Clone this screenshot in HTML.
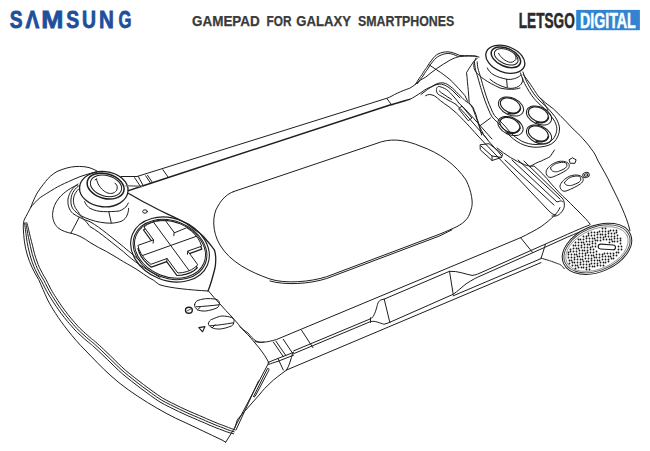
<!DOCTYPE html>
<html><head><meta charset="utf-8"><style>
html,body{margin:0;padding:0;background:#fff;width:650px;height:451px;overflow:hidden;font-family:"Liberation Sans",sans-serif}
svg{display:block}
</style></head><body>
<svg width="650" height="451" viewBox="0 0 650 451">
<defs><pattern id="dots" width="2.8" height="2.8" patternUnits="userSpaceOnUse" patternTransform="rotate(-8)"><circle cx="1.4" cy="1.4" r="0.78" fill="#1a1a1a"/></pattern></defs>
<rect width="650" height="451" fill="#fff"/>
<!-- header -->
<g font-family="Liberation Sans" font-weight="bold">
<g font-size="24" fill="#1d4f9b" stroke="#1d4f9b" stroke-width="0.8"><text transform="translate(16.05,0) scale(0.8,1)" x="-7.91" y="27.6">S</text><text transform="translate(32.4,0) scale(0.858,1)" x="-8.02" y="27.6">Λ</text><text transform="translate(52.5,0) scale(1.11,1)" x="-10.03" y="27.6">M</text><text transform="translate(72.55,0) scale(0.81,1)" x="-7.91" y="27.6">S</text><text transform="translate(89,0) scale(0.807,1)" x="-8.64" y="27.6">U</text><text transform="translate(106.35,0) scale(0.86,1)" x="-8.69" y="27.6">N</text><text transform="translate(124.8,0) scale(0.694,1)" x="-9.1" y="27.6">G</text></g>
<text x="192" y="25.9" font-size="14" fill="#3a3a3a" stroke="#3a3a3a" stroke-width="0.25" lengthAdjust="spacingAndGlyphs" textLength="67.8">GAMEPAD</text><text x="266.5" y="25.9" font-size="14" fill="#3a3a3a" stroke="#3a3a3a" stroke-width="0.25" lengthAdjust="spacingAndGlyphs" textLength="25.0">FOR</text><text x="296.3" y="25.9" font-size="14" fill="#3a3a3a" stroke="#3a3a3a" stroke-width="0.25" lengthAdjust="spacingAndGlyphs" textLength="54.7">GALAXY</text><text x="358" y="25.9" font-size="14" fill="#3a3a3a" stroke="#3a3a3a" stroke-width="0.25" lengthAdjust="spacingAndGlyphs" textLength="96.2">SMARTPHONES</text>
<text x="518.8" y="27.6" font-size="21.2" fill="#2a2a2a" stroke="#2a2a2a" stroke-width="0.5" textLength="56" lengthAdjust="spacingAndGlyphs">LETSGO</text>
<rect x="576.2" y="9.9" width="63.7" height="20.3" fill="#3384d0"/>
<text x="580" y="27.6" font-size="21.2" fill="#fff" stroke="#fff" stroke-width="0.5" textLength="55.8" lengthAdjust="spacingAndGlyphs">DIGITAL</text>
</g>

<g fill="none" stroke="#1e1e1e" stroke-width="1" stroke-linecap="round" stroke-linejoin="round">
<!-- ===== LEFT GRIP ===== -->
<path d="M97,171 C94,169.5 92,168.5 89,167.6 C85,166.6 81,166.3 76,166.5 C70,166.8 64,168.5 57,171.5 C52,174.5 48,178 45.5,181.6 C42,186 39,190 36.6,194 C34,199 32,204 30.6,207.6 C28.5,212 26,216 24.6,219 C23.5,221 23.2,224 23.3,228 C23.6,236 24.5,246 27.3,255 C30,264 34,272 38.8,279.8 C41.5,286 44.5,293 47.7,300 C52,308 58,318 67.5,330 C73,337 79,344 85,350 C93,358 101,367 110,375 C122,386 134,394 147.5,402.5 C160,410 172,417 185,422.5 C197,428 209,434 222,440 L225.7,442.2"/>
<path d="M97,172 C93,172.5 88,174 81,176.3 C77,177.8 73,179.5 68.6,181.6 C63,184 58,186.5 54.4,188.7 C49,192 44,195 40.2,197.6 C36,201 33,204.5 30.6,207.6"/>
<path d="M24.6,223.0 C24.7,224.1 25.1,227.1 25.4,229.5 C25.7,232.0 26.1,235.0 26.5,237.9 C26.9,240.7 27.4,243.9 28.0,246.8 C28.6,249.6 29.3,252.3 30.0,255.0 C30.7,257.7 31.6,260.3 32.4,262.7 C33.3,265.2 34.2,267.4 35.2,269.6 C36.2,271.8 37.3,273.9 38.4,276.0 C39.6,278.0 41.0,280.1 42.0,282.0 C43.0,283.9 43.7,285.4 44.5,287.1 C45.4,288.7 46.2,290.2 47.0,291.8 C47.8,293.2 48.6,294.7 49.5,296.1 C50.3,297.4 50.9,298.3 52.0,300.0 C53.1,301.7 54.6,304.1 56.2,306.4 C57.7,308.6 59.4,311.0 61.2,313.5 C63.1,316.0 65.2,318.6 67.5,321.4 C69.8,324.1 72.9,327.7 75.0,330.0 C77.1,332.3 78.4,333.4 80.1,334.9 C81.7,336.4 83.2,337.8 84.7,339.1 C86.2,340.3 87.5,341.5 88.9,342.6 C90.2,343.7 90.6,343.8 92.5,345.5 C94.4,347.2 97.6,350.2 100.1,352.5 C102.6,354.9 105.0,357.2 107.5,359.6 C110.0,362.0 112.4,364.4 114.9,366.8 C117.4,369.2 119.7,371.6 122.5,373.9 C125.3,376.3 128.4,378.7 131.4,381.1 C134.4,383.5 137.5,385.9 140.7,388.3 C143.8,390.7 147.1,393.0 150.3,395.3 C153.5,397.6 156.9,400.1 160.0,402.0 C163.1,403.9 166.1,405.3 169.2,406.9 C172.3,408.4 175.4,410.0 178.6,411.5 C181.7,413.0 184.9,414.5 188.1,415.9 C191.2,417.2 194.8,418.7 197.5,419.9 C200.2,421.1 202.2,421.9 204.5,422.9 C206.8,423.9 209.0,424.9 211.1,425.8 C213.1,426.6 215.2,427.4 217.0,428.2 C218.8,428.9 220.3,429.3 222.0,430.0 C224.5,431 228,432.5 233.6,433.8"/>
<path d="M25.8,222.9 C26.0,223.9 26.5,226.9 27.0,229.3 C27.4,231.8 27.9,234.8 28.5,237.6 C29.1,240.4 29.7,243.5 30.4,246.3 C31.0,249.1 31.6,251.8 32.3,254.4 C33.0,257.0 33.8,259.5 34.7,261.9 C35.6,264.3 36.5,266.5 37.4,268.6 C38.4,270.8 39.4,272.8 40.5,274.8 C41.7,276.8 43.1,279.0 44.1,280.8 C45.1,282.7 45.8,284.3 46.7,286.0 C47.5,287.6 48.3,289.1 49.1,290.6 C49.9,292.1 50.7,293.5 51.5,294.8 C52.3,296.2 52.9,297.0 54.0,298.7 C55.1,300.4 56.6,302.8 58.1,305.0 C59.7,307.2 61.3,309.6 63.2,312.1 C65.0,314.5 67.0,317.1 69.3,319.8 C71.6,322.6 74.7,326.1 76.8,328.4 C78.8,330.6 80.1,331.6 81.7,333.1 C83.3,334.6 84.8,336.0 86.3,337.3 C87.7,338.5 89.1,339.7 90.4,340.7 C91.7,341.8 92.2,342.0 94.1,343.7 C96.0,345.4 99.3,348.4 101.8,350.8 C104.3,353.1 106.7,355.5 109.2,357.9 C111.6,360.2 114.0,362.7 116.5,365.1 C119.0,367.5 121.3,369.8 124.1,372.1 C126.8,374.5 129.9,376.8 132.9,379.2 C135.9,381.6 139.0,384.0 142.1,386.4 C145.3,388.7 148.5,391.1 151.7,393.4 C154.8,395.6 158.2,398.1 161.3,400.0 C164.3,401.8 167.2,403.2 170.3,404.7 C173.3,406.3 176.5,407.8 179.6,409.3 C182.7,410.8 185.9,412.3 189.0,413.7 C192.2,415.0 195.7,416.5 198.4,417.7 C201.2,418.8 203.2,419.7 205.4,420.7 C207.7,421.7 209.9,422.7 212.0,423.5 C214.1,424.4 216.0,425.2 217.8,425.9 C219.7,426.6 221.4,427.1 223.0,427.8 C225.5,428.8 229,430.5 234.2,431.8"/>
<path d="M26.9,222.7 C27.2,223.8 27.9,226.7 28.5,229.1 C29.1,231.6 29.7,234.5 30.4,237.3 C31.1,240.1 31.9,243.1 32.6,245.8 C33.3,248.6 33.8,251.2 34.5,253.7 C35.2,256.3 36.0,258.8 36.9,261.1 C37.7,263.5 38.6,265.6 39.5,267.7 C40.5,269.8 41.5,271.7 42.6,273.7 C43.7,275.7 45.1,277.9 46.1,279.7 C47.1,281.6 47.9,283.3 48.7,284.9 C49.6,286.5 50.3,288.0 51.1,289.5 C51.9,291.0 52.7,292.3 53.5,293.6 C54.3,294.9 54.8,295.8 55.9,297.4 C57.0,299.1 58.5,301.5 60.0,303.7 C61.5,305.9 63.2,308.2 65.0,310.7 C66.8,313.1 68.8,315.7 71.1,318.4 C73.3,321.1 76.4,324.6 78.4,326.8 C80.5,329.0 81.7,330.0 83.3,331.5 C84.8,332.9 86.4,334.3 87.8,335.5 C89.2,336.8 90.5,337.9 91.8,339.0 C93.1,340.0 93.7,340.3 95.6,342.0 C97.5,343.7 100.8,346.7 103.4,349.1 C105.9,351.5 108.3,353.8 110.8,356.2 C113.2,358.6 115.6,361.1 118.1,363.4 C120.6,365.8 122.9,368.0 125.6,370.4 C128.3,372.7 131.3,375.0 134.3,377.4 C137.3,379.8 140.4,382.2 143.5,384.5 C146.6,386.9 149.8,389.3 153.0,391.5 C156.1,393.7 159.4,396.1 162.4,398.0 C165.5,399.9 168.3,401.1 171.3,402.7 C174.3,404.2 177.5,405.8 180.6,407.3 C183.7,408.7 186.8,410.2 190.0,411.6 C193.1,412.9 196.6,414.4 199.4,415.6 C202.1,416.7 204.1,417.6 206.4,418.6 C208.6,419.6 210.8,420.6 212.9,421.4 C214.9,422.3 216.8,423.1 218.7,423.8 C220.5,424.5 222.5,425.0 223.9,425.7 C226.5,426.6 230,428.4 235,429.8"/>
<path d="M225.7,442.2 L233.6,429.6 L268.6,363"/>
<path d="M236,430 L258.5,381"/>
<path d="M286.6,370 C280,375 274,379 270,383.3 C266,387 263,390 260,394 L237.5,419.4 L234.8,428"/>
<path d="M253.6,396.5 L267.6,368.3 C268.5,368 269.2,369 269,370 L255.3,396 C254.8,397 253.8,397.2 253.6,396.5 Z"/>
<!-- left grip upper-right edge from panel tip -->
<path d="M208.5,291 C212,295 216,300 220,304 C224,308.5 228,313 232,317 C235,320.5 238,323.5 240,326.5 C242,329 245,331 248,333 C250.5,336 253,339 255.9,340.9 C259,342.5 262,342.5 264,342"/>
<path d="M240,326.5 C243,330 247,334 250,337 C253,341 257,345 260,349 C263,353 266,357 268.9,362.8"/>

<!-- ===== LEFT PANEL (joystick + dpad) ===== -->
<path d="M77.5,185 C72,187 64,192 59,198 C55,203 53,208 52.6,213.6 C52.4,219 54,224 58,227.8 C62,231 67,232.5 72.2,233.5 C78,235 84,238 90,242.5 C96,246 101,249 106.6,251.6 C112,255 118,258 123.3,261.6 C129,265 135,268 140,271.6 C145,275 149,278 153.2,280 C156,282 158,284 160,284.9 C170,288 190,290 208,291"/>
<path d="M71,233 L79.3,217.2"/>
<!-- socket rings -->
<path d="M78,184 C73,187 69,193 68,199 C67.5,205 69,210 73,213.6 C78,217 84,219.5 90,221.7 C96,225 101,229 106.6,233.3 C112,238 118,242 123.3,246.6 C127,250 130,252 133.3,255 C136,257.5 138,259 140,260.8"/>
<path d="M80,185 C75,188 71.5,193 71,199 C70.5,205 72,209 76,212 C81,216 86,221 90,226.6 C96,230 101,234 106.6,238.3 C112,243 118,247 123.3,251.6 C128,256 134,261 140,265 C145,268 149,271 153.2,273.2 C156,275 158,276.5 160,277.4"/>
<path d="M82,186 C77,190 74,194 73.5,199 C73,204 75,208 78,211.5 C79,213 80,214.5 80.6,215.5 C83.5,217 86.5,218.5 90,219.6 C93.5,220.8 97,221.7 100.6,222.3 C104,222.9 108,223.3 111.3,223.2 C115,223 119,222.2 121.9,221 C124.5,219.5 126.3,217.5 127.2,215 C128.2,212.5 128.6,210.5 128.6,208.3"/>
<!-- panel upper edge, right of joystick to dpad right -->
<path d="M128.5,193.5 C135,197 143,202 150.5,205.5 C157,209 163,212 168.2,214.4 C174,217 180,220 186,223.2 C190,226 194,229 198.4,232.1 C202,235 205,238 207.3,241 C210,244 212,247 214.4,250 C216,255 216,262 215,268 C213,276 211,284 208,291" stroke-width="1.3"/>
<!-- small dot -->
<ellipse cx="145" cy="211.5" rx="2.3" ry="1.7"/>

<!-- left joystick -->
<path d="M84.6,201.7 C86,205 88,207 90,208.3 C94,210.5 99,211.5 103.3,211.6 C109,211.8 115,211.5 119.2,211 C122,210 124,208.5 125.9,207 C127,205.5 127.8,204 128.3,203"/>

<path d="M108.8,211.7 L111.3,223"/>
<ellipse cx="103.8" cy="189.2" rx="24.3" ry="17.6" transform="rotate(5 103.8 189.2)" fill="#fff" stroke-width="1.3"/>
<ellipse cx="105.6" cy="186.1" rx="18.9" ry="12.3" transform="rotate(16 105.6 186.1)" stroke-width="1.5"/>
<ellipse cx="106" cy="185.8" rx="16" ry="10.3" transform="rotate(16 106 185.8)"/>
<path d="M95,180 L96.5,178.6 C97,183 100,189 106.6,192.6 C110,194 114,194 116.7,190.3 C118,187 117,184 115,183.3"/>

<!-- D-pad -->
<ellipse cx="170" cy="249.5" rx="40.5" ry="31" transform="rotate(22 170 249.5)" stroke-width="1.1"/>
<ellipse cx="170" cy="249.5" rx="38" ry="28.6" transform="rotate(22 170 249.5)"/>
<ellipse cx="170" cy="249.3" rx="36.6" ry="27.4" transform="rotate(22 170 249.3)"/>
<path d="M187.6,230.7 L191.7,233.9 L195.2,237.4 L198.1,241.1 L200.3,245.1 L201.8,249.2 L187.4,254.3 L197.3,267.8 L194.2,270.5 L190.5,272.6 L186.3,274.2 L181.8,275.2 L176.9,275.5 L166.7,261.7 L151.4,267.2 L147.5,264.0 L144.1,260.4 L141.3,256.6 L139.3,252.6 L138.0,248.5 L153.1,243.1 L143.5,230.0 L146.8,227.5 L150.6,225.5 L154.9,224.1 L159.6,223.3 L164.5,223.1 L173.8,235.7 Z" stroke-width="1.25"/>
<path d="M187.1,227.9 L191.2,230.9 L194.8,234.4 L197.8,238.1 L200.1,242.1 L201.6,246.2 L187.8,251.1 L197.8,264.8 L194.8,267.5 L191.3,269.8 L187.2,271.5 L182.6,272.6 L177.8,273.0 L167.1,258.5 L150.9,264.3 L147.0,261.0 L143.7,257.4 L141.1,253.6 L139.1,249.5 L137.9,245.4 L153.5,239.9 L144.0,227.0 L147.4,224.5 L151.4,222.7 L155.7,221.4 L160.5,220.7 L165.5,220.7 L174.2,232.5 Z" fill="#fff"/>
<path d="M187.8,251.1 L187.4,254.3 M167.1,258.5 L166.7,261.7 M153.5,239.9 L153.1,243.1 M174.2,232.5 L173.8,235.7 "/>
<path d="M196.4,236.3 L142.3,255.6 M189.2,270.7 L153.4,222.0"/>

<!-- buttons lower-left -->
<path d="M194.6,304.6 C195,302.5 196.5,300.8 198,300.4 C201,299.2 205,298.6 208,298.6 C211,298.6 215,298.8 217,299.6 C219,300.6 219.6,302.2 219.4,303.4 C219.2,305.5 218.4,307.2 217,307.9 C213,309.6 209,310.6 205.6,311 C202,311.2 199,310.6 197.6,309.8 C195.6,308.6 194.4,306.6 194.6,304.6 Z"/>
<path d="M196.4,306.8 C203,306.4 211,305.8 218.8,304.8"/>
<path d="M197.6,309.8 C199,308.6 200,307.4 200.6,306.6"/>
<path d="M208.4,323.6 C208.8,321.5 210.3,319.8 211.8,319.4 C214.8,318.2 218.8,316.2 221.8,316 C224.8,315.8 229.8,316.8 231.8,317.6 C233.8,318.6 234.2,320.2 234,321.4 C233.8,323.5 233,325.2 231.6,325.9 C227.6,327.6 223.6,328.6 220.2,329 C216.6,329.2 213.6,328.6 212.2,327.8 C210.2,326.6 208.2,325.6 208.4,323.6 Z"/>
<path d="M210.2,325.8 C217,325.4 225,324.2 233.4,322.8"/>
<path d="M212.2,327.8 C213.6,326.6 214.6,325.4 215.2,324.6"/>
<ellipse cx="188.9" cy="310.3" rx="3.4" ry="3" stroke-width="1.4"/>
<path d="M187,311 L190.5,309.2" stroke-width="0.8"/>
<path d="M198.8,327.6 L205,326.6 L202.6,331.8 Z" stroke-width="1.1"/>

<!-- ===== TOP EDGE ===== -->
<path d="M121,176.5 L137,176.5 L147,173.4 L386.7,98.3 C390,97.5 394,94.5 397.3,93.2 C402,91 406,89.5 409.6,88.3 C412,87 414,85.5 415.8,84"/>
<path d="M128.5,190.6 L143.2,185.7 L390,105 C393,104.3 395,103.6 397.3,103 C402,101.5 406,100.5 409.6,99.4" stroke-width="1.5"/>
<path d="M126,185.7 L142,186.3" stroke="#777" stroke-width="1.4"/>
<path d="M386.7,98.3 L391.7,105 M134.6,177.7 L140.8,186.9 M138.3,176.5 L143.2,185.7 M145.7,175.8 L150.6,183.2 M147.5,175.2 L152.5,182.6 M162.9,169.7 L168.5,177.7"/>

<!-- ===== OVAL BACK PLATE ===== -->
<path d="M233.3,191.7 L381.7,141.7 C395,138 408,141 420,146 C440,153 456,165 466,180 C472,192 473,203 471.6,207.6 C470.5,212 469,216 467.4,218.2 C464.5,222 461,224.5 456.9,226.6 C452,229 446,231.5 440,234 L326.7,276.7 C310,282 285,284 270,279 C250,272 230,262 220,245 C212,232 212,215 218,206 C222,199 227,194 233.3,191.7 Z"/>
<path d="M452,229.8 C448,231.8 444,233.8 440,235.8 L326.7,278.5 C310,284 285,285.5 270,281"/>

<!-- ===== BODY BOTTOM BAND ===== -->
<path d="M255,341.6 C260,343 266,342.5 276.3,339.6 L521.0,237.5 C528,234 536,230 541.1,226.6 C546,223 551,219 553.8,216 C557,213 559,210 560,207.6"/>
<path d="M293.6,350.9 L370.5,318.8 C374,317.29034 376,310.4 377.5,304.4 C379,299.7 381,300.0 384.2,299.1 L449.5,271.3 C458,270.8 466,274.4 472,275.4 C475,275.2 477,274.3 479.0,273.5 L567.7,234.2 C576,230.5 583,227.5 590,224.8"/>
<path d="M293.6,353.7 L370.5,321.6 C375,320.4 380,323.3 384,324.2 C386,323.8 388,323.0 389.8,322.3 L453.2,294.3 C458,290.8 462,287.1 466,283.9 C472,279.9 477,277.3 481.0,275.7 L546,246.8 L567.7,237 C576,233.5 583,230.5 590,228"/>
<path d="M384.2,299.1 L389.8,322.3 M449.5,271.3 L453.2,294.3 M370.5,317.8 L370.5,322.3"/>
<path d="M389.8,322.3 L389.8,322.3 M453.2,295.8 L541.0,258.6"/>
<path d="M286.6,370 L541.0,262.6"/>
<path d="M520.6,237.7 L532.6,252.5 M545.4,244.5 L541.1,258.2"/>
<path d="M541.1,258.2 C546,259.5 551.7,261.4 551.7,261.4 C556,263 560.1,264.5 560.1,264.5 C562,266 563,267 564.3,268.7"/>
<path d="M273.3,342 L283.3,356.6 M276,341.3 L286,355.8 M283.3,339.3 L292.6,353.3 M301.6,330.3 L312.9,347.6"/>
<path d="M268,362.5 C270,361.5 272,361 274,360 L293.6,352.4 M268.6,364.5 C271,363.5 274,362.5 278,361.3 L293.6,355.2 M292.6,353.3 C292,356 291,359 290,362 C289,365 288,368 286.6,370 M278,358.6 L283.3,370"/>

<!-- ===== RIGHT GRIP ===== -->
<!-- shoulder -->
<path d="M415.8,84 C418,80 420,77 421.9,74.8 C424,71 425.5,69 426.8,67.4 C428.5,64.5 430,62 431.8,60 C434,57 436,55 438,54 C441,52.5 445,51.7 448,51.8 C452,52 456,54 460,55.5 C466,56 472,55 479,57"/>
<path d="M417.5,83.6 C419.5,80.5 421.2,78 423,76 C425,72.5 426.5,70.5 427.8,68.8 C429.5,66 431,63.5 432.8,61.5 C435,58.8 437,57 439,56 C442,54.5 445.5,53.4 448,53.4 C451.5,53.5 455,55 458,56.5"/>
<path d="M415.8,84 C419,81 422,79 425.6,77.2 C429,74.5 433,71 436.7,68.6 C441,65.5 446,62.5 450.2,60 C454,58 457,57 460,56.5 C466,56 471,56 476,56"/>
<path d="M429.3,65 C433,67.5 437,70 440.4,72.3 C445,75.5 449,78.5 452.7,82.2 C457,86.5 461,91 465,95.7 L467.6,101.3"/>
<!-- tray top-right corner and channel right wall -->
<path d="M409.6,99.4 C414,97.5 418,94.5 421.9,92 C425,89.5 428,88 431.8,86.5 C434,85 436,84 437.9,83.4 C439.5,82.9 441,82.7 442.8,82.8 C444.5,83 446,83.6 447.8,84.6 C449.5,85.8 451,87 452.7,88.3 C455,90.5 457,92.5 458.8,94.5 C461,96.5 463,98.5 465,100.6 C467,102 470,104 471.6,105.3 C473,107 474,109 474.3,110.6 C475.5,113 476.5,116 477,118.6 C478,121 479,124 479.6,126.6 C481,129.5 482.5,132 483.6,134.6 C485,136.5 486.5,138.5 487.6,140 C492,145 497,150 501.4,155.6"/>
<path d="M421,94.5 C425,91.4 430,87.2 434.2,85.5 C437,84.4 439,84 441.6,84.2 C446,85 450,88 454,92 L460,98"/>
<!-- channel -->
<path d="M425.6,95.7 C427,95 428,94.5 429.3,94.5 C431,94.6 433,95 434.2,95.7 C436.5,97 438.5,99 440.4,100.6 C443,102.8 446,104.8 449,106.8 C451.5,108.8 454,111 456.4,113 C462,118.5 470,127 478,136 L548,210 C551,213 553,215 556,215"/>
<path d="M456,104.5 C453,102.5 451,101.5 449,100.6 C446.5,99.3 444.5,98 442.8,96.9 C440,95.5 438,94.5 437.3,93.2 C436.3,91.5 436.2,89.8 436.7,88.3 C437.2,86.9 438.2,86.3 439.2,86.5 C441.5,87 444,88 446.5,89.5 C449,91.5 451.5,94 454,97 C456,99 457.5,101 458.8,103"/>
<path d="M439.2,90.8 C440.5,92.2 442,93.5 444,94.5 C446.5,96.2 449,98 451.5,99.4"/>
<path d="M456,104.5 C462,110 468,117 474,124 L488,140 M458.8,103 C464,108 470,114 476,121 L492,139"/>
<path d="M505,160 L554,205 M512,160 L557,202 C560,201 562,200 563,202 M518,160 L560,199"/>
<path d="M524,161 L562,198 C565,201 565,207 563,210 C560,215 556,217 552,216"/>
<path d="M459,108.5 L462,106 L471.9,118 L468.5,120.5 Z"/>
<!-- USB connector -->
<path d="M480.5,144.7 L489,143.7 L502.6,154.2 L501.6,157.4 L492.1,160.5 L480.5,150 Z M481,146 L492,156 L501.6,157.4 M492,156 L492.1,160.5"/>
<!-- right panel (4 buttons) double boundary -->
<path d="M474.5,62.1 C474.6,63.3 474.8,66.5 475.4,69.2 C476.0,71.9 477.0,74.5 478.0,78.0 C479.0,81.5 480.4,86.7 481.6,90.5 C482.8,94.3 483.9,97.8 485.1,101.1 C486.3,104.3 487.5,107.3 488.7,110.0 C489.9,112.7 490.7,114.9 492.2,117.0 C493.7,119.1 495.8,120.6 497.6,122.4 C499.4,124.2 500.9,125.7 503.0,128.0 C505.1,130.3 507.7,133.8 510.0,136.0 C512.3,138.2 514.7,140.0 517.0,141.5 C519.3,143.0 521.5,144.1 524.0,145.0 C526.5,145.9 529.3,146.7 532.0,147.0 C534.7,147.3 537.3,147.2 540.0,147.0 C542.7,146.8 545.7,146.3 548.0,145.5 C550.3,144.7 552.3,143.6 554.0,142.0 C555.7,140.4 557.1,138.3 558.0,136.0 C558.9,133.7 559.7,130.7 559.5,128.0 C559.3,125.3 558.2,122.5 557.0,120.0 C555.8,117.5 553.8,115.2 552.0,113.0 C550.2,110.8 548.0,108.5 546.0,106.5 C544.0,104.5 542.0,103.1 540.0,101.0 C538.0,98.9 535.8,96.5 534.0,94.0 C532.2,91.5 530.4,88.5 529.0,86.0 C527.6,83.5 526.5,81.3 525.5,79.0 C524.5,76.7 523.4,73.2 523.0,72.0"/>
<path d="M477.2,61.8 C477.3,62.9 477.4,66.0 478.0,68.6 C478.6,71.2 479.6,73.7 480.6,77.2 C481.6,80.7 483.0,85.9 484.2,89.7 C485.4,93.5 486.4,97.0 487.6,100.2 C488.8,103.4 490.1,106.4 491.2,108.9 C492.3,111.4 493.0,113.5 494.4,115.4 C495.8,117.3 497.7,118.7 499.5,120.5 C501.3,122.3 502.9,123.9 505.0,126.2 C507.1,128.5 509.6,131.9 511.9,134.1 C514.1,136.3 516.3,137.8 518.5,139.2 C520.7,140.6 522.6,141.7 524.9,142.5 C527.2,143.3 529.8,144.0 532.3,144.3 C534.8,144.6 537.2,144.5 539.7,144.3 C542.2,144.1 545.0,143.7 547.1,143.0 C549.2,142.3 550.7,141.3 552.1,140.0 C553.5,138.7 554.7,137.0 555.5,135.0 C556.3,133.0 556.9,130.5 556.8,128.2 C556.6,125.9 555.8,123.5 554.6,121.2 C553.5,119.0 551.6,116.8 549.9,114.7 C548.1,112.6 546.1,110.4 544.1,108.4 C542.1,106.4 540.2,105.0 538.1,102.9 C536.0,100.8 533.7,98.2 531.8,95.6 C529.9,93.0 528.2,89.9 526.7,87.3 C525.2,84.7 524.0,82.5 523.0,80.1 C522.0,77.7 520.9,74.1 520.5,72.9"/>
<path d="M479.8,125.9 L490.5,118"/>
<path d="M477.2,58.5 C475,60 473.5,61.5 472.7,63 C470,67 468,70 466.5,72.7 C467,76 467.2,79 467.4,81.6 C467.8,85 468,88 468.3,90.5 C468.6,95 469,99 469.2,102.9 C470.5,104.5 471.5,106.5 472.7,108.2 C474.5,113 476.5,118 478,122.4 C479.5,127 480.5,131 481.6,135"/>
<!-- grip outer contour -->
<path d="M523.3,74.6 C526,78 528,81 530.6,84.6 C533,88 536,93 538.6,96.6 C543,101 548,105 553.3,108.8 C558,113 562,117.5 566.6,122.1 C571,127 575,131 579.9,135.4 C584,140 588,144 591,148.7 C594,152 596,156 597.6,160 C602,168 607,176 611,185 C615,193 619,201 622,208 C625,215 628,222 630,230.7"/>
<path d="M538.6,96.6 C541,99 543,101 544,103.3 C546,106 547,108 548,110"/>
<path d="M497,148 C506,155 515,161 524.7,164.7 C528,166 531,166.5 534,166 C540,171 546,177 550.5,183 C556,189 561,195 567,200 C572,205 576,209 580,213 C584,217 587,220 590,224"/>
<path d="M530,166.6 C534,164 538,162 541.1,161.1 C545,159 548,158 550,156.7 C552,154 553,152 554.4,150"/>
<!-- right joystick -->
<path d="M476,58 C473,63 473,68 476,72 C480,77 487,82 500,88 C508,90 516,89.5 520,88"/>
<path d="M487.3,68 C490,74 496,77 507,79.3 C512,80 518,78 520.6,75.3"/>
<path d="M490,79.3 C494,83 500,86 507.3,88 C512,89 518,88 521.3,84 C523,81 523,79 522.6,78"/>
<path d="M506.6,79.3 L507.3,87.3"/>
<ellipse cx="505.3" cy="59.3" rx="20.3" ry="12.9" transform="rotate(21 505.3 59.3)" fill="#fff" stroke-width="1.3"/>
<ellipse cx="505.9" cy="57.3" rx="15.6" ry="9" transform="rotate(24 505.9 57.3)" stroke-width="1.5"/>
<ellipse cx="506.2" cy="56.8" rx="12.6" ry="7" transform="rotate(24 506.2 56.8)"/>
<path d="M498.6,53.3 C500,56 503,60 508.6,62 C511,63 514,62 516,59.3 C516,57 515.5,56 515.3,55.3"/>
<!-- 4 buttons -->
<g>
<ellipse cx="511" cy="106.5" rx="13.3" ry="8.6" transform="rotate(25 511 106.5)" stroke-width="1"/>
<ellipse cx="510.4" cy="105.5" rx="10.6" ry="6.9" transform="rotate(25 510.4 105.5)" stroke-width="1.2"/>
<path d="M520.5,108.5 C519,113.5 513,115.0 508,113.0" stroke-width="1.4" transform="rotate(0)"/>
<ellipse cx="539" cy="115.5" rx="13.3" ry="8.6" transform="rotate(25 539 115.5)" stroke-width="1"/>
<ellipse cx="538.4" cy="114.5" rx="10.6" ry="6.9" transform="rotate(25 538.4 114.5)" stroke-width="1.2"/>
<path d="M548.5,117.5 C547,122.5 541,124.0 536,122.0" stroke-width="1.4" transform="rotate(0)"/>
<ellipse cx="510.5" cy="126" rx="13.3" ry="8.6" transform="rotate(25 510.5 126)" stroke-width="1"/>
<ellipse cx="509.9" cy="125.0" rx="10.6" ry="6.9" transform="rotate(25 509.9 125.0)" stroke-width="1.2"/>
<path d="M520.0,128 C518.5,133 512.5,134.5 507.5,132.5" stroke-width="1.4" transform="rotate(0)"/>
<ellipse cx="539" cy="134.5" rx="13.3" ry="8.6" transform="rotate(25 539 134.5)" stroke-width="1"/>
<ellipse cx="538.4" cy="133.5" rx="10.6" ry="6.9" transform="rotate(25 538.4 133.5)" stroke-width="1.2"/>
<path d="M548.5,136.5 C547,141.5 541,143.0 536,141.0" stroke-width="1.4" transform="rotate(0)"/>
</g>
<!-- start/select -->
<path d="M546.6,170 C548,167 552,163.5 557.7,161.7 C561,160.8 566,161 568.3,163.3 C570,165 569.5,168 566.6,170 C563,172.5 558,175 552.2,177.2 C549,178 546.5,176.5 546.1,172.8 Z"/>
<path d="M550.5,167.8 C553,165 556,163 558.9,162.8 C562,162 566,162 566.6,163.9 C567.5,166 566.5,167.5 564,169 C561,170.5 558,171.5 557.7,171.6 C555,172 551,172 550.5,167.8"/>
<path d="M560.5,184.4 C562,181 566,177.3 571.6,175.5 C575,174.6 580,174.8 582.2,177.1 C584,178.8 583.4,181.8 580.5,183.8 C577,186.3 572,188.8 566.1,191 C563,191.8 560.4,190.3 560,186.6 Z"/>
<path d="M564.4,182.6 C567,179 570,177 572.8,176.6 C576,175.8 580,175.8 580.5,177.7 C581.4,179.8 580.4,181.3 578,182.8 C575,184.3 572,185.3 571.6,185.4 C569,185.8 565,185.8 564.4,182.6"/>
<path d="M569.4,159.6 L572.5,157.8 L576.1,159.8 L575,163.3 L570.5,163.3 Z"/>
<ellipse cx="586" cy="175" rx="3.3" ry="2.5" transform="rotate(-20 586 175)"/>
<ellipse cx="586" cy="175" rx="1.8" ry="1.2" transform="rotate(-20 586 175)"/>
<!-- speaker grille -->
<ellipse cx="597" cy="248.8" rx="36.5" ry="23" transform="rotate(-23.5 597 248.8)" fill="#fff"/>
<ellipse cx="597" cy="248.8" rx="34.8" ry="21.4" transform="rotate(-23.5 597 248.8)" stroke="#3a3a3a" stroke-width="0.9"/>
<ellipse cx="597" cy="249" rx="33" ry="19.8" transform="rotate(-23.5 597 249)" stroke="#777" stroke-width="0.7"/>
<g fill="#1a1a1a" stroke="none"><circle cx="568.5" cy="252.5" r="0.9"/><circle cx="568.5" cy="254.5" r="0.9"/><circle cx="568.5" cy="257.5" r="0.9"/><circle cx="569.5" cy="260.5" r="0.9"/><circle cx="569.5" cy="263.5" r="0.9"/><circle cx="570.5" cy="249.5" r="0.9"/><circle cx="570.5" cy="251.5" r="0.9"/><circle cx="571.5" cy="254.5" r="0.9"/><circle cx="571.5" cy="257.5" r="0.9"/><circle cx="571.5" cy="260.5" r="0.9"/><circle cx="572.5" cy="262.5" r="0.9"/><circle cx="572.5" cy="265.5" r="0.9"/><circle cx="573.5" cy="245.5" r="0.9"/><circle cx="573.5" cy="248.5" r="0.9"/><circle cx="573.5" cy="251.5" r="0.9"/><circle cx="574.5" cy="254.5" r="0.9"/><circle cx="574.5" cy="257.5" r="0.9"/><circle cx="574.5" cy="259.5" r="0.9"/><circle cx="574.5" cy="262.5" r="0.9"/><circle cx="575.5" cy="265.5" r="0.9"/><circle cx="575.5" cy="268.5" r="0.9"/><circle cx="575.5" cy="242.5" r="0.9"/><circle cx="575.5" cy="245.5" r="0.9"/><circle cx="576.5" cy="248.5" r="0.9"/><circle cx="576.5" cy="251.5" r="0.9"/><circle cx="576.5" cy="254.5" r="0.9"/><circle cx="577.5" cy="256.5" r="0.9"/><circle cx="577.5" cy="259.5" r="0.9"/><circle cx="577.5" cy="262.5" r="0.9"/><circle cx="577.5" cy="265.5" r="0.9"/><circle cx="578.5" cy="267.5" r="0.9"/><circle cx="578.5" cy="239.5" r="0.9"/><circle cx="578.5" cy="242.5" r="0.9"/><circle cx="578.5" cy="245.5" r="0.9"/><circle cx="578.5" cy="248.5" r="0.9"/><circle cx="579.5" cy="250.5" r="0.9"/><circle cx="579.5" cy="253.5" r="0.9"/><circle cx="579.5" cy="256.5" r="0.9"/><circle cx="580.5" cy="259.5" r="0.9"/><circle cx="580.5" cy="262.5" r="0.9"/><circle cx="580.5" cy="264.5" r="0.9"/><circle cx="581.5" cy="267.5" r="0.9"/><circle cx="580.5" cy="239.5" r="0.9"/><circle cx="581.5" cy="242.5" r="0.9"/><circle cx="581.5" cy="245.5" r="0.9"/><circle cx="581.5" cy="247.5" r="0.9"/><circle cx="582.5" cy="250.5" r="0.9"/><circle cx="582.5" cy="253.5" r="0.9"/><circle cx="582.5" cy="256.5" r="0.9"/><circle cx="582.5" cy="259.5" r="0.9"/><circle cx="583.5" cy="261.5" r="0.9"/><circle cx="583.5" cy="264.5" r="0.9"/><circle cx="583.5" cy="267.5" r="0.9"/><circle cx="583.5" cy="236.5" r="0.9"/><circle cx="583.5" cy="239.5" r="0.9"/><circle cx="583.5" cy="242.5" r="0.9"/><circle cx="584.5" cy="244.5" r="0.9"/><circle cx="584.5" cy="247.5" r="0.9"/><circle cx="584.5" cy="250.5" r="0.9"/><circle cx="585.5" cy="253.5" r="0.9"/><circle cx="585.5" cy="255.5" r="0.9"/><circle cx="585.5" cy="258.5" r="0.9"/><circle cx="586.5" cy="261.5" r="0.9"/><circle cx="586.5" cy="264.5" r="0.9"/><circle cx="586.5" cy="267.5" r="0.9"/><circle cx="586.5" cy="269.5" r="0.9"/><circle cx="586.5" cy="236.5" r="0.9"/><circle cx="586.5" cy="238.5" r="0.9"/><circle cx="586.5" cy="241.5" r="0.9"/><circle cx="587.5" cy="244.5" r="0.9"/><circle cx="587.5" cy="247.5" r="0.9"/><circle cx="587.5" cy="250.5" r="0.9"/><circle cx="587.5" cy="252.5" r="0.9"/><circle cx="588.5" cy="255.5" r="0.9"/><circle cx="588.5" cy="258.5" r="0.9"/><circle cx="588.5" cy="261.5" r="0.9"/><circle cx="589.5" cy="264.5" r="0.9"/><circle cx="589.5" cy="266.5" r="0.9"/><circle cx="589.5" cy="269.5" r="0.9"/><circle cx="588.5" cy="233.5" r="0.9"/><circle cx="588.5" cy="235.5" r="0.9"/><circle cx="589.5" cy="238.5" r="0.9"/><circle cx="589.5" cy="241.5" r="0.9"/><circle cx="589.5" cy="244.5" r="0.9"/><circle cx="590.5" cy="247.5" r="0.9"/><circle cx="590.5" cy="249.5" r="0.9"/><circle cx="590.5" cy="252.5" r="0.9"/><circle cx="591.5" cy="255.5" r="0.9"/><circle cx="591.5" cy="258.5" r="0.9"/><circle cx="591.5" cy="260.5" r="0.9"/><circle cx="591.5" cy="263.5" r="0.9"/><circle cx="592.5" cy="266.5" r="0.9"/><circle cx="591.5" cy="232.5" r="0.9"/><circle cx="591.5" cy="235.5" r="0.9"/><circle cx="592.5" cy="238.5" r="0.9"/><circle cx="592.5" cy="241.5" r="0.9"/><circle cx="592.5" cy="243.5" r="0.9"/><circle cx="592.5" cy="246.5" r="0.9"/><circle cx="593.5" cy="249.5" r="0.9"/><circle cx="593.5" cy="252.5" r="0.9"/><circle cx="593.5" cy="255.5" r="0.9"/><circle cx="594.5" cy="257.5" r="0.9"/><circle cx="594.5" cy="260.5" r="0.9"/><circle cx="594.5" cy="263.5" r="0.9"/><circle cx="594.5" cy="266.5" r="0.9"/><circle cx="594.5" cy="232.5" r="0.9"/><circle cx="594.5" cy="235.5" r="0.9"/><circle cx="594.5" cy="238.5" r="0.9"/><circle cx="595.5" cy="240.5" r="0.9"/><circle cx="595.5" cy="243.5" r="0.9"/><circle cx="595.5" cy="246.5" r="0.9"/><circle cx="596.5" cy="251.5" r="0.9"/><circle cx="596.5" cy="254.5" r="0.9"/><circle cx="596.5" cy="257.5" r="0.9"/><circle cx="597.5" cy="260.5" r="0.9"/><circle cx="597.5" cy="263.5" r="0.9"/><circle cx="597.5" cy="265.5" r="0.9"/><circle cx="597.5" cy="232.5" r="0.9"/><circle cx="597.5" cy="234.5" r="0.9"/><circle cx="597.5" cy="237.5" r="0.9"/><circle cx="597.5" cy="240.5" r="0.9"/><circle cx="599.5" cy="254.5" r="0.9"/><circle cx="599.5" cy="257.5" r="0.9"/><circle cx="599.5" cy="260.5" r="0.9"/><circle cx="600.5" cy="262.5" r="0.9"/><circle cx="600.5" cy="265.5" r="0.9"/><circle cx="599.5" cy="231.5" r="0.9"/><circle cx="600.5" cy="234.5" r="0.9"/><circle cx="600.5" cy="237.5" r="0.9"/><circle cx="600.5" cy="240.5" r="0.9"/><circle cx="602.5" cy="254.5" r="0.9"/><circle cx="602.5" cy="256.5" r="0.9"/><circle cx="602.5" cy="259.5" r="0.9"/><circle cx="603.5" cy="262.5" r="0.9"/><circle cx="603.5" cy="265.5" r="0.9"/><circle cx="602.5" cy="228.5" r="0.9"/><circle cx="602.5" cy="231.5" r="0.9"/><circle cx="602.5" cy="234.5" r="0.9"/><circle cx="603.5" cy="237.5" r="0.9"/><circle cx="603.5" cy="239.5" r="0.9"/><circle cx="604.5" cy="253.5" r="0.9"/><circle cx="605.5" cy="256.5" r="0.9"/><circle cx="605.5" cy="259.5" r="0.9"/><circle cx="605.5" cy="262.5" r="0.9"/><circle cx="605.5" cy="228.5" r="0.9"/><circle cx="605.5" cy="231.5" r="0.9"/><circle cx="605.5" cy="234.5" r="0.9"/><circle cx="605.5" cy="236.5" r="0.9"/><circle cx="606.5" cy="239.5" r="0.9"/><circle cx="607.5" cy="253.5" r="0.9"/><circle cx="608.5" cy="256.5" r="0.9"/><circle cx="608.5" cy="259.5" r="0.9"/><circle cx="608.5" cy="261.5" r="0.9"/><circle cx="608.5" cy="231.5" r="0.9"/><circle cx="608.5" cy="233.5" r="0.9"/><circle cx="608.5" cy="236.5" r="0.9"/><circle cx="609.5" cy="239.5" r="0.9"/><circle cx="609.5" cy="242.5" r="0.9"/><circle cx="610.5" cy="253.5" r="0.9"/><circle cx="610.5" cy="256.5" r="0.9"/><circle cx="611.5" cy="258.5" r="0.9"/><circle cx="610.5" cy="230.5" r="0.9"/><circle cx="611.5" cy="233.5" r="0.9"/><circle cx="611.5" cy="236.5" r="0.9"/><circle cx="611.5" cy="239.5" r="0.9"/><circle cx="612.5" cy="241.5" r="0.9"/><circle cx="613.5" cy="253.5" r="0.9"/><circle cx="613.5" cy="255.5" r="0.9"/><circle cx="613.5" cy="258.5" r="0.9"/><circle cx="613.5" cy="230.5" r="0.9"/><circle cx="614.5" cy="233.5" r="0.9"/><circle cx="614.5" cy="236.5" r="0.9"/><circle cx="614.5" cy="238.5" r="0.9"/><circle cx="614.5" cy="241.5" r="0.9"/><circle cx="616.5" cy="252.5" r="0.9"/><circle cx="616.5" cy="255.5" r="0.9"/><circle cx="616.5" cy="230.5" r="0.9"/><circle cx="616.5" cy="232.5" r="0.9"/><circle cx="617.5" cy="235.5" r="0.9"/><circle cx="617.5" cy="238.5" r="0.9"/><circle cx="617.5" cy="241.5" r="0.9"/><circle cx="618.5" cy="246.5" r="0.9"/><circle cx="618.5" cy="249.5" r="0.9"/><circle cx="618.5" cy="252.5" r="0.9"/><circle cx="620.5" cy="238.5" r="0.9"/><circle cx="620.5" cy="240.5" r="0.9"/><circle cx="620.5" cy="243.5" r="0.9"/><circle cx="621.5" cy="246.5" r="0.9"/><circle cx="621.5" cy="249.5" r="0.9"/></g>
<rect x="598.2" y="244.6" width="17.3" height="4.8" rx="2.4" transform="rotate(4 607 247)" fill="#fff" stroke-width="1.1"/>
</g>
</svg>
</body></html>
